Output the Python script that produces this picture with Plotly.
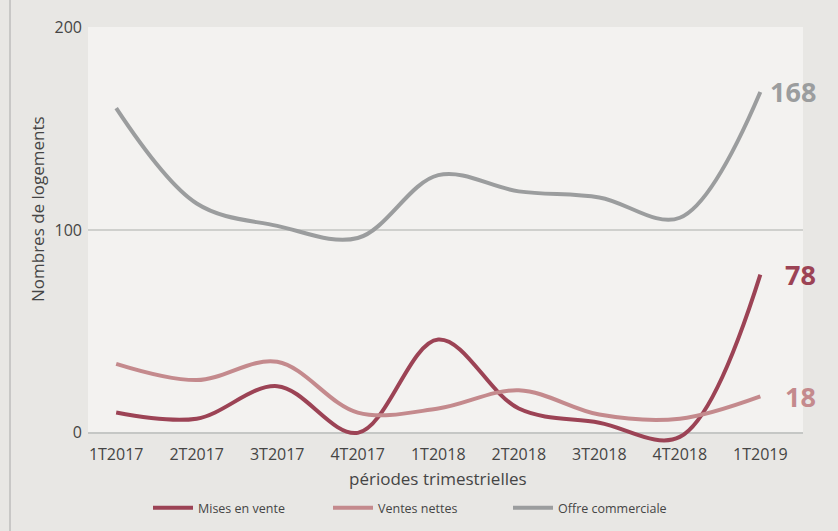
import plotly.graph_objects as go

categories = ["1T2017", "2T2017", "3T2017", "4T2017", "1T2018", "2T2018", "3T2018", "4T2018", "1T2019"]
mises_en_vente = [10, 7, 23, 0, 46, 12, 5, -2, 78]
ventes_nettes = [34, 26, 35, 10, 12, 21, 9, 7, 18]
offre_commerciale = [160, 113, 102, 96, 127, 119, 116, 106, 168]

series_names = ["Mises en vente", "Ventes nettes", "Offre commerciale"]
series_values = [mises_en_vente, ventes_nettes, offre_commerciale]
series_colors = ["#9c4355", "#c48a8d", "#9b9d9e"]

W, H = 838, 531
ML, MR, MT, MB = 88, 35, 27, 88
pw = W - ML - MR
ph = H - MT - MB

def px_x(p):
    return (p - ML) / pw

def px_y(p):
    return (H - MB - p) / ph

FONT = "Open Sans"
TXT = "#454545"

fig = go.Figure()
for name, vals, col in zip(series_names, series_values, series_colors):
    fig.add_trace(go.Scatter(
        x=categories, y=vals, name=name, mode="lines",
        line=dict(color=col, width=4, shape="spline", smoothing=1.0),
        hoverinfo="skip",
    ))

# end labels
for vals, col in zip(series_values, series_colors):
    fig.add_annotation(
        x=px_x(818), xref="paper", xanchor="right",
        y=vals[-1], yref="y", yanchor="middle",
        text=f"<b>{vals[-1]}</b>", showarrow=False,
        font=dict(family=FONT, size=27, color=col),
    )

# y axis title
fig.add_annotation(
    x=px_x(37), xref="paper", y=px_y(209), yref="paper",
    text="Nombres de logements", textangle=-90, showarrow=False,
    xanchor="center", yanchor="middle",
    font=dict(family=FONT, size=17, color=TXT),
)
# x axis title
fig.add_annotation(
    x=px_x(438), xref="paper", y=px_y(478), yref="paper",
    text="périodes trimestrielles", showarrow=False,
    xanchor="center", yanchor="middle",
    font=dict(family=FONT, size=17, color=TXT),
)

shapes = [
    # plot background band (0..200)
    dict(type="rect", xref="paper", yref="y", x0=0, x1=1, y0=0, y1=200,
         fillcolor="#f3f2f0", line=dict(width=0), layer="below"),
    # left border line
    dict(type="line", xref="paper", yref="paper", x0=px_x(10), x1=px_x(10),
         y0=px_y(H + 5), y1=px_y(-5), line=dict(color="#a8a8a8", width=1)),
]

fig.update_layout(
    width=W, height=H,
    margin=dict(l=ML, r=MR, t=MT, b=MB, autoexpand=False),
    paper_bgcolor="#e8e7e4",
    plot_bgcolor="rgba(0,0,0,0)",
    font=dict(family=FONT, color=TXT),
    shapes=shapes,
    showlegend=True,
    legend=dict(
        orientation="h", x=px_x(418), xanchor="center",
        y=px_y(508), yanchor="middle",
        font=dict(family=FONT, size=12.5, color=TXT),
        bgcolor="rgba(0,0,0,0)", itemwidth=40,
        entrywidth=125,
    ),
    xaxis=dict(
        type="category", range=[-0.35, 8.53],
        showgrid=False, zeroline=False, showline=False,
        ticks="", tickfont=dict(family=FONT, size=16, color=TXT),
        fixedrange=True,
    ),
    yaxis=dict(
        range=[-5, 200], tickvals=[0, 100, 200],
        showgrid=True, gridcolor="#cfd0cd", gridwidth=2,
        zeroline=True, zerolinecolor="#c5c7c5", zerolinewidth=2,
        showline=False, ticks="", ticklabelstandoff=5,
        tickfont=dict(family=FONT, size=16, color=TXT),
        fixedrange=True,
    ),
)

fig.write_html("out.html")
